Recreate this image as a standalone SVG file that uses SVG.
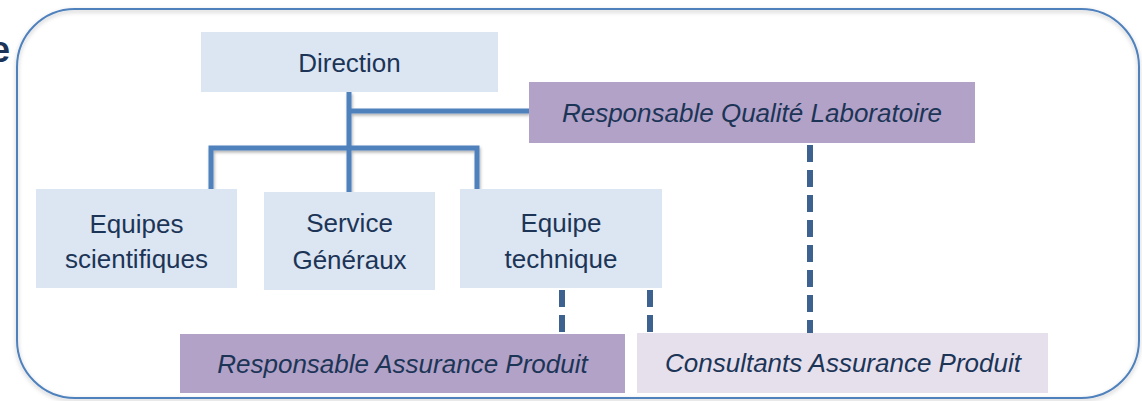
<svg xmlns="http://www.w3.org/2000/svg" width="1142" height="401" viewBox="0 0 1142 401">
  <defs>
    <filter id="sh" x="-10%" y="-10%" width="120%" height="140%">
      <feDropShadow dx="1" dy="2" stdDeviation="1.5" flood-color="#000" flood-opacity="0.3"/>
    </filter>
    <filter id="fsh" x="-5%" y="-5%" width="110%" height="110%">
      <feDropShadow dx="0" dy="2" stdDeviation="2" flood-color="#000" flood-opacity="0.25"/>
    </filter>
  </defs>
  <style>
    .lbl { font-family: "Liberation Sans", Arial, sans-serif; font-size: 26px; fill: #1c3557; text-anchor: middle; }
    .it { font-style: italic; }
    .blue { fill: #dce6f2; }
    .purple { fill: #b3a2c7; }
    .lilac { fill: #e6e0ec; }
    .solid { fill: none; stroke: #4f81bd; stroke-width: 5; }
    .dash { fill: none; stroke: #3d6290; stroke-width: 6; stroke-dasharray: 17 8; }
  </style>
  <rect width="1142" height="401" fill="#ffffff"/>
  <text x="-10" y="62" style="font-family: 'Liberation Sans', Arial, sans-serif; font-size: 36px; font-weight: bold; fill: #1c3557;">e</text>
  <rect id="frame" x="17" y="9" width="1122" height="389" rx="58" ry="58" fill="none" stroke="#4f81bd" stroke-width="2" filter="url(#fsh)"/>

  <g id="connectors">
    <g filter="url(#sh)">
      <path class="solid" d="M349 92 V192"/>
      <path class="solid" d="M349 111 H529"/>
      <path class="solid" d="M211 189 V148 H477 V189"/>
    </g>
    <path class="dash" d="M562 290 V334"/>
    <path class="dash" d="M650 290 V333"/>
    <path class="dash" d="M810 145 V333"/>
  </g>

  <g id="direction">
    <rect class="blue" x="201" y="32" width="297" height="60"/>
    <text class="lbl" x="349.5" y="72">Direction</text>
  </g>
  <g id="rql">
    <rect class="purple" x="529" y="82" width="446" height="61"/>
    <text class="lbl it" x="752" y="122">Responsable Qualité Laboratoire</text>
  </g>
  <g id="equipes-scientifiques">
    <rect class="blue" x="36" y="189" width="201" height="99"/>
    <text class="lbl" x="136.5" y="233">Equipes</text>
    <text class="lbl" x="136.5" y="268">scientifiques</text>
  </g>
  <g id="service-generaux">
    <rect class="blue" x="264" y="192" width="171" height="98"/>
    <text class="lbl" x="349.5" y="232">Service</text>
    <text class="lbl" x="349.5" y="269">Généraux</text>
  </g>
  <g id="equipe-technique">
    <rect class="blue" x="460" y="189" width="202" height="99"/>
    <text class="lbl" x="561" y="232">Equipe</text>
    <text class="lbl" x="561" y="268">technique</text>
  </g>
  <g id="rap">
    <rect class="purple" x="180" y="334" width="445" height="59"/>
    <text class="lbl it" x="402.5" y="373">Responsable Assurance Produit</text>
  </g>
  <g id="cap">
    <rect class="lilac" x="637" y="333" width="411" height="60"/>
    <text class="lbl it" x="843" y="372">Consultants Assurance Produit</text>
  </g>
</svg>
